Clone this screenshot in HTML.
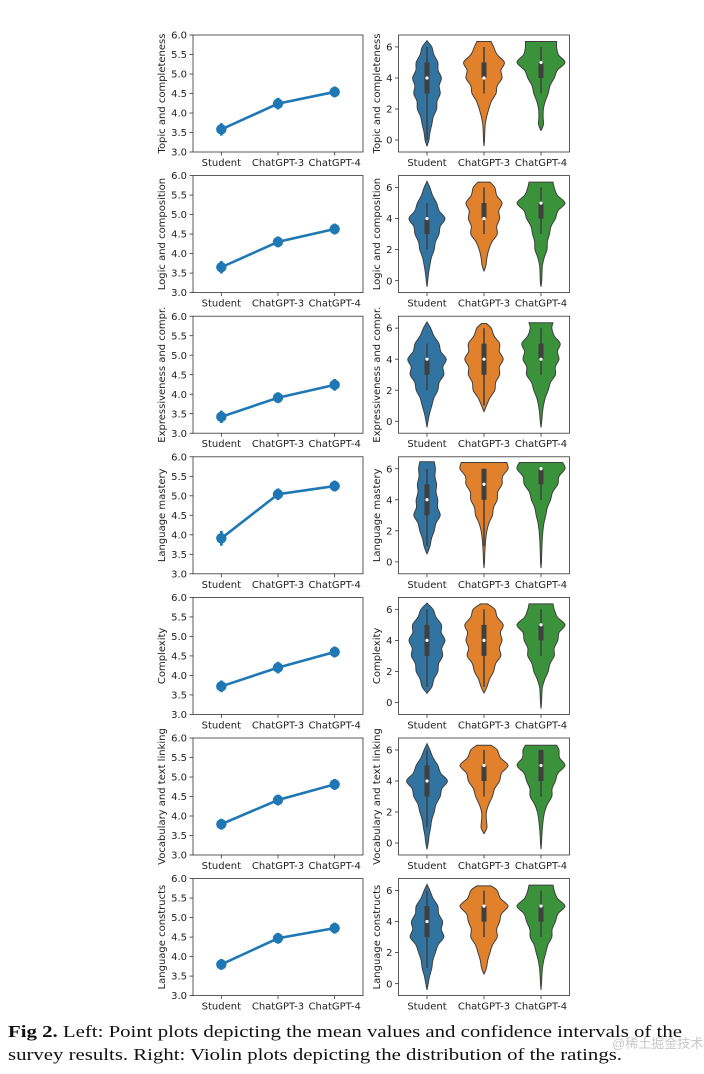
<!DOCTYPE html>
<html><head><meta charset="utf-8"><style>
html,body{margin:0;padding:0;background:#fff;}
svg{display:block;}
text{font-family:"DejaVu Sans","Liberation Sans",sans-serif;}
</style></head><body>
<svg id="fig" width="704" height="1074" viewBox="0 0 704 1074" xmlns="http://www.w3.org/2000/svg">
<text x="612" y="1048" font-size="13" fill="#c8c8c8" style="font-family:'Liberation Sans','Noto Sans CJK SC',sans-serif">@稀土掘金技术社区</text>
<text x="8" y="1037" font-size="17" fill="#111" style="font-family:'Liberation Serif',serif" textLength="674" lengthAdjust="spacingAndGlyphs"><tspan font-weight="bold">Fig 2.</tspan> Left: Point plots depicting the mean values and confidence intervals of the</text>
<text x="8" y="1060" font-size="17" fill="#111" style="font-family:'Liberation Serif',serif" textLength="614" lengthAdjust="spacingAndGlyphs">survey results. Right: Violin plots depicting the distribution of the ratings.</text>
</svg>
<script>
const categories = ["Student","ChatGPT-3","ChatGPT-4"];
const metrics = ["Topic and completeness","Logic and composition","Expressiveness and compr.","Language mastery","Complexity","Vocabulary and text linking","Language constructs"];
const means = [[3.58,4.24,4.54],[3.65,4.30,4.63],[3.42,3.91,4.24],[3.91,5.04,5.25],[3.72,4.20,4.60],[3.79,4.41,4.81],[3.80,4.47,4.73]];
const ciHalf = [[0.16,0.15,0.14],[0.16,0.14,0.14],[0.16,0.14,0.15],[0.19,0.15,0.14],[0.15,0.15,0.14],[0.14,0.14,0.14],[0.14,0.14,0.14]];
const leftTicks = [3.0,3.5,4.0,4.5,5.0,5.5,6.0];
const rightTicks = [0,2,4,6];
const vLo = [[-0.4,-0.4,0.6],[-0.4,0.6,-0.4],[-0.4,0.6,-0.4],[0.5,-0.4,-0.4],[0.6,0.6,-0.4],[-0.4,0.6,-0.4],[-0.4,0.6,-0.4]];
const vHi = [[6.4,6.35,6.35],[6.4,6.35,6.35],[6.4,6.3,6.35],[6.45,6.4,6.4],[6.4,6.35,6.35],[6.4,6.3,6.3],[6.4,6.3,6.35]];
const vTop = [[0,0.3,0.65],[0,0.25,0.5],[0,0.1,0.5],[0.3,0.95,0.9],[0,0.15,0.5],[0,0.3,0.65],[0,0.3,0.5]];
const vDens = [
 [[0.08,0.2,0.4,0.55,0.6,0.45,0.2],[0.02,0.05,0.2,0.5,0.75,0.85,0.4],[0,0.1,0.1,0.3,0.55,1.0,0.65]],
 [[0.03,0.12,0.3,0.5,0.75,0.4,0.12],[0,0.08,0.2,0.55,0.65,0.75,0.45],[0.03,0.06,0.25,0.35,0.6,1.0,0.55]],
 [[0.04,0.2,0.45,0.7,0.8,0.5,0.15],[0,0.1,0.45,0.65,0.8,0.65,0.3],[0.03,0.1,0.3,0.6,0.75,0.8,0.45]],
 [[0,0.12,0.3,0.55,0.45,0.4,0.35],[0.02,0.05,0.12,0.35,0.55,0.75,1.0],[0.02,0.04,0.08,0.2,0.4,0.7,1.0]],
 [[0,0.2,0.45,0.65,0.75,0.6,0.25],[0,0.12,0.4,0.7,0.75,0.8,0.45],[0.02,0.06,0.3,0.55,0.7,1.0,0.55]],
 [[0.05,0.15,0.3,0.55,0.85,0.45,0.12],[0,0.12,0.1,0.35,0.65,1.0,0.55],[0.02,0.06,0.15,0.45,0.6,1.0,0.75]],
 [[0.05,0.2,0.35,0.7,0.65,0.45,0.12],[0,0.1,0.25,0.55,0.65,1.0,0.55],[0.02,0.06,0.2,0.45,0.6,1.0,0.55]]
];
const vQ1 = [[3,4,4],[3,4,4],[3,3,4],[3,4,5],[3,3,4],[3,4,4],[3,4,4]];
const vMed = [[4,4,5],[4,4,5],[4,4,4],[4,5,6],[4,4,5],[4,5,5],[4,5,5]];
const vQ3 = [[5,5,5],[4,5,5],[4,5,5],[5,6,6],[5,5,5],[5,5,6],[5,5,5]];
const vWlo = [[0,3,3],[2,3,3],[2,1,3],[1,1,4],[1,1,3],[1,3,3],[1,3,3]];
const vWhi = [[6,6,6],[5,6,6],[5,6,6],[6,6,6],[6,6,6],[6,6,6],[6,6,6]];

const svg = document.getElementById('fig');
const NS = 'http://www.w3.org/2000/svg';
function mk(tag, attrs, parent){const e=document.createElementNS(NS,tag);for(const k in attrs)e.setAttribute(k,attrs[k]);(parent||svg).appendChild(e);return e;}
const colors = ["#3274a1","#e1812c","#3a923a"];
const ROW0=35, ROWSTEP=140.6, H=117;
const L0=193, L1=363, R0=398.5, R1=569.5;
function xCat(x0,x1,i){const w=(x1-x0)/3;return x0+w*(i+0.5);}
function catmull(pts){let d='M'+pts[0][0]+','+pts[0][1];for(let i=0;i<pts.length-1;i++){const p0=pts[Math.max(0,i-1)],p1=pts[i],p2=pts[i+1],p3=pts[Math.min(pts.length-1,i+2)];const c1=[p1[0]+(p2[0]-p0[0])/6,p1[1]+(p2[1]-p0[1])/6],c2=[p2[0]-(p3[0]-p1[0])/6,p2[1]-(p3[1]-p1[1])/6];d+=' C'+c1[0].toFixed(2)+','+c1[1].toFixed(2)+' '+c2[0].toFixed(2)+','+c2[1].toFixed(2)+' '+p2[0].toFixed(2)+','+p2[1].toFixed(2);}return d;}

metrics.forEach((m,r)=>{
  const top=ROW0+r*ROWSTEP, bot=top+H;
  const yL=v=>bot-(v-3)/3*H;
  const yR=v=>bot-(v+0.77)/(7.54)*H;
  const gl=mk('g',{});
  
  
  leftTicks.forEach(t=>{
    mk('line',{x1:L0-3.5,x2:L0,y1:yL(t),y2:yL(t),stroke:'#333','stroke-width':0.8},gl);
    const tx=mk('text',{x:L0-6,y:yL(t)+3.6,'font-size':10,'text-anchor':'end',fill:'#222'},gl);tx.textContent=t.toFixed(1);
    
    
  });
  categories.forEach((c,i)=>{
    const x=xCat(L0,L1,i);
    mk('line',{x1:x,x2:x,y1:bot,y2:bot+3.5,stroke:'#333','stroke-width':0.8},gl);
    const tx=mk('text',{x:x,y:bot+14,'font-size':10,'text-anchor':'middle',fill:'#222'},gl);tx.textContent=c;
    
    
  });
  const yl=mk('text',{transform:`translate(165,${(top+bot)/2}) rotate(-90)`,'font-size':10,'text-anchor':'middle',fill:'#222'},gl);yl.textContent=m;
  
  
  const pts=means[r].map((v,i)=>xCat(L0,L1,i)+','+yL(v)).join(' ');
  const pl=mk('polyline',{points:pts,fill:'none',stroke:'#1f77b4','stroke-width':2.6},gl);
  
  
  means[r].forEach((v,i)=>{
    const x=xCat(L0,L1,i);
    const eb=mk('line',{x1:x,x2:x,y1:yL(v-ciHalf[r][i]),y2:yL(v+ciHalf[r][i]),stroke:'#1f77b4','stroke-width':2.8},gl);
    
    
    const pt=mk('circle',{cx:x,cy:yL(v),r:5.2,fill:'#1f77b4'},gl);
    
    
  });
  mk('rect',{x:L0,y:top,width:L1-L0,height:H,fill:'none',stroke:'#333','stroke-width':0.8},gl);
  const gr=mk('g',{});
  
  
  rightTicks.forEach(t=>{
    mk('line',{x1:R0-3.5,x2:R0,y1:yR(t),y2:yR(t),stroke:'#333','stroke-width':0.8},gr);
    const tx=mk('text',{x:R0-6,y:yR(t)+3.6,'font-size':10,'text-anchor':'end',fill:'#222'},gr);tx.textContent=t;
    
    
  });
  categories.forEach((c,i)=>{
    const x=xCat(R0,R1,i);
    mk('line',{x1:x,x2:x,y1:bot,y2:bot+3.5,stroke:'#333','stroke-width':0.8},gr);
    const tx=mk('text',{x:x,y:bot+14,'font-size':10,'text-anchor':'middle',fill:'#222'},gr);tx.textContent=c;
    
    
  });
  const yr=mk('text',{transform:`translate(380,${(top+bot)/2}) rotate(-90)`,'font-size':10,'text-anchor':'middle',fill:'#222'},gr);yr.textContent=m;
  
  
  categories.forEach((c,i)=>{
    const x=xCat(R0,R1,i), MW=24;
    const lo=vLo[r][i], hi=vHi[r][i], dn=vDens[r][i];
    const prof=[[lo,0]];
    for(let k=0;k<=12;k++){const v=k/2;if(v<=lo+0.15||v>=hi-0.1)continue;
      let w;if(k%2===0)w=dn[k/2];else w=(dn[(k-1)/2]+dn[(k+1)/2])/2*0.88;
      prof.push([v,w]);}
    prof.push([hi,vTop[r][i]]);
    const right=prof.map(p=>[x+p[1]*MW,yR(p[0])]);
    const left=prof.slice().reverse().map(p=>[x-p[1]*MW,yR(p[0])]);
    const d=catmull(right)+' L'+left[0][0].toFixed(2)+','+left[0][1].toFixed(2)+catmull(left).replace(/^M[^ ]+/,'')+' Z';
    const vp=mk('path',{d:d,fill:colors[i],stroke:'#3f3f3f','stroke-width':1},gr);
    
    
    const wh=mk('line',{x1:x,x2:x,y1:yR(vWlo[r][i]),y2:yR(vWhi[r][i]),stroke:'#3f3f3f','stroke-width':1.5},gr);
    
    
    const bx=mk('line',{x1:x,x2:x,y1:yR(vQ1[r][i]),y2:yR(vQ3[r][i]),stroke:'#3f3f3f','stroke-width':5},gr);
    
    
    const md=mk('circle',{cx:x,cy:yR(vMed[r][i]),r:1.6,fill:'#fff'},gr);
    
    
  });
  mk('rect',{x:R0,y:top,width:R1-R0,height:H,fill:'none',stroke:'#333','stroke-width':0.8},gr);
});
</script>
</body></html>
